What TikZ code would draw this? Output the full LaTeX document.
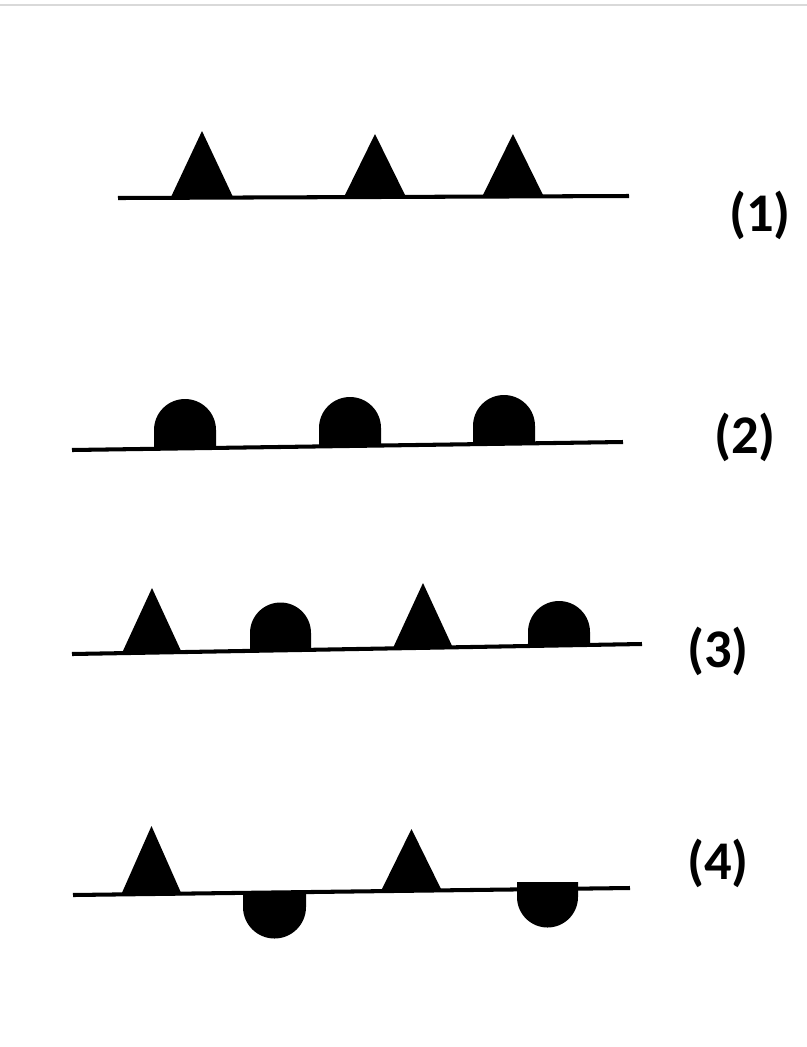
\documentclass[tikz,border=0pt]{standalone}
\usepackage{fontspec}
\newfontfamily\lblfont{Carlito}
\tikzset{
  ground/.style={line width=2.3pt},
  bump/.style={fill=black},
  rowlabel/.style={font=\lblfont\bfseries\fontsize{31}{34}\selectfont, inner sep=0pt}
}
\begin{document}
\begin{tikzpicture}[x=0.2mm,y=0.2mm]
				      \useasboundingbox (0,0) rectangle (807,-1047);
				      \draw[gray!30, line width=1pt] (0,-5) -- (807,-5);
				      % (1)
				      \draw[ground] (118,-198) -- (629,-196);
				      \foreach \x/\h in {171/66, 344/63, 482/63}
				        \fill[bump] (\x,-197) -- ++(31,\h) -- ++(31,-\h) -- cycle;
				      \node[rowlabel] (lbl1) at (760,-215) {(1)};
				      % (2)
				      \draw[ground] (72,-450) -- (623,-442);
				      \foreach \x/\y in {154/-448, 319/-446, 473/-444}
				        \fill[bump] (\x,\y) -- ++(0,18) arc(180:0:31) -- ++(0,-18) -- cycle;
				      \node[rowlabel] (lbl2) at (745,-437) {(2)};
				      % (3)
				      \draw[ground] (72,-654) -- (642,-644);
				      \fill[bump] (122,-653) -- ++(30,65) -- ++(30,-65) -- cycle;
				      \fill[bump] (250,-650) -- ++(0,17) arc(180:0:30.5) -- ++(0,-17) -- cycle;
				      \fill[bump] (393,-648) -- ++(30,65) -- ++(30,-65) -- cycle;
				      \fill[bump] (528,-646) -- ++(0,14) arc(180:0:31) -- ++(0,-14) -- cycle;
				      \node[rowlabel] (lbl3) at (718,-651) {(3)};
				      % (4)
				      \draw[ground] (73,-895) -- (630,-888);
				      \fill[bump] (121,-895) -- ++(30.5,69) -- ++(30.5,-69) -- cycle;
				      \fill[bump] (243,-893) -- ++(0,-14) arc(180:360:31.5) -- ++(0,14) -- cycle;
				      \fill[bump] (381,-891) -- ++(30.5,62) -- ++(30.5,-62) -- cycle;
				      \fill[bump] (517,-882) -- ++(0,-15) arc(180:360:30.5) -- ++(0,15) -- cycle;
				      \node[rowlabel] (lbl4) at (718,-863) {(4)};
			      \end{tikzpicture}
\end{document}
